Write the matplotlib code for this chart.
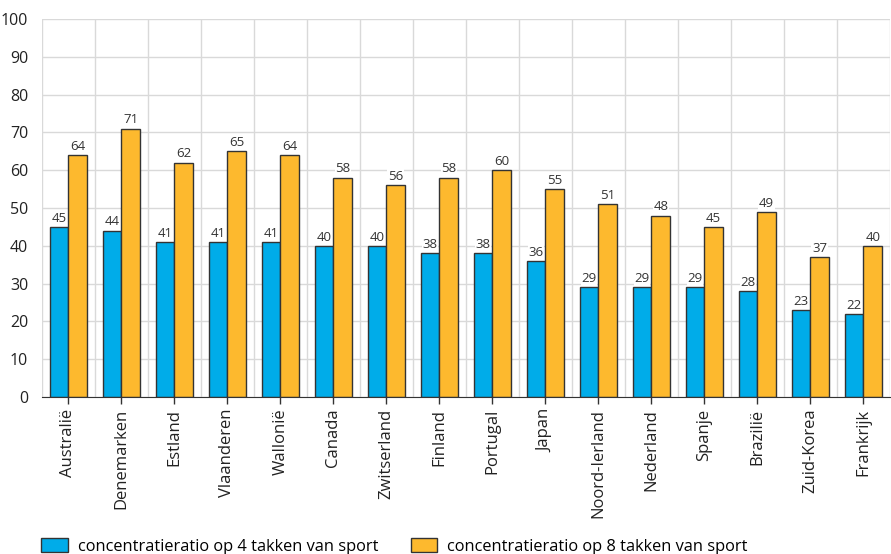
import matplotlib.pyplot as plt
import numpy as np

landen = ['Australië', 'Denemarken', 'Estland', 'Vlaanderen', 'Wallonië', 'Canada',
          'Zwitserland', 'Finland', 'Portugal', 'Japan', 'Noord-Ierland', 'Nederland',
          'Spanje', 'Brazilië', 'Zuid-Korea', 'Frankrijk']
cr4 = [45, 44, 41, 41, 41, 40, 40, 38, 38, 36, 29, 29, 29, 28, 23, 22]
cr8 = [64, 71, 62, 65, 64, 58, 56, 58, 60, 55, 51, 48, 45, 49, 37, 40]

plt.rcParams['font.family'] = ['Open Sans', 'DejaVu Sans']

fig = plt.figure(figsize=(8.91, 5.54), dpi=100)
ax = fig.add_axes([0.0471, 0.2834, 0.9517, 0.6823])

x = np.arange(len(landen))
w = 0.35
b1 = ax.bar(x - w/2, cr4, w, color='#00ACE9', edgecolor='#333333', linewidth=1,
            label='concentratieratio op 4 takken van sport', zorder=3)
b2 = ax.bar(x + w/2, cr8, w, color='#FDB92E', edgecolor='#333333', linewidth=1,
            label='concentratieratio op 8 takken van sport', zorder=3)

for bars in (b1, b2):
    for r in bars:
        ax.text(r.get_x() + r.get_width()/2, r.get_height() + 0.6, str(int(r.get_height())),
                ha='center', va='bottom', fontsize=9.5, color='#333333', zorder=4,
                bbox=dict(facecolor='white', edgecolor='none', pad=0.5))

ax.set_xlim(-0.5, len(landen) - 0.5)
ax.set_ylim(0, 100)
ax.set_yticks(range(0, 101, 10))
ax.set_xticks(x)
ax.set_xticklabels(landen, rotation=90, fontsize=12, color='#222222')
ax.set_xticks(np.arange(-0.5, len(landen)), minor=True)
ax.grid(axis='y', color='#d9d9d9', linewidth=1, zorder=0)
ax.grid(axis='x', which='minor', color='#d9d9d9', linewidth=1, zorder=0)
ax.tick_params(axis='x', which='minor', length=0)
ax.tick_params(axis='x', which='major', length=5, color='#333333', width=1)
ax.tick_params(axis='y', length=0, labelsize=11.5, labelcolor='#222222', pad=10)
for s in ['top', 'right', 'left']:
    ax.spines[s].set_visible(False)
ax.spines['bottom'].set_color('#333333')
ax.spines['bottom'].set_zorder(5)

fig.legend(handles=[b1, b2], loc='lower left', bbox_to_anchor=(0.03, -0.028), ncol=2,
           frameon=False, fontsize=11.8, handlelength=1.6, handleheight=0.9,
           columnspacing=2.0, handletextpad=0.6)

fig.savefig('out.png', dpi=100)
